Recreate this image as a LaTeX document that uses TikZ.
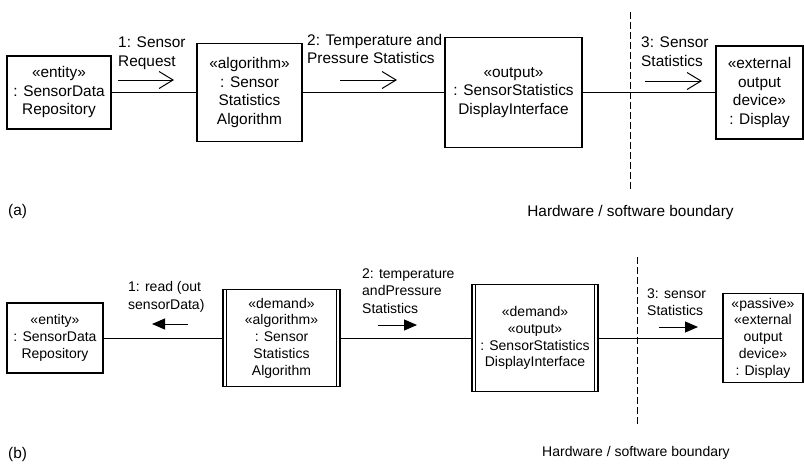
\documentclass[tikz,border=0pt]{standalone}
\usepackage{fontspec}
\setmainfont{Liberation Sans}
\usetikzlibrary{arrows.meta}

\tikzset{
  objbox/.style={draw, line width=1.3pt, inner sep=0pt, align=center},
  demandbox/.style={objbox, path picture={
    \draw[line width=0.8pt]
      ([xshift=3.5pt]path picture bounding box.north west) -- ([xshift=3.5pt]path picture bounding box.south west)
      ([xshift=-3.5pt]path picture bounding box.north east) -- ([xshift=-3.5pt]path picture bounding box.south east);}},
  link/.style={line width=0.8pt},
  msg/.style={anchor=west, inner sep=0pt, align=left},
  openarrow/.style={line width=1pt, -{Straight Barb[length=14pt,width=17pt]}},
  fullarrow/.style={line width=1pt, -{Triangle[length=13pt,width=11pt]}},
  boundary/.style={line width=0.8pt, dash pattern=on 7pt off 3pt},
}

\begin{document}
\begin{tikzpicture}[x=1pt, y=-1pt, font=\fontsize{15.4}{18.5}\selectfont]

\useasboundingbox (0,0) rectangle (804,464);

% (a) communication diagram
\begin{scope}
  % Objects
  \node[objbox, minimum width=104pt, minimum height=73pt] (ent) at (59,92.5)
    {«entity»\\: SensorData\\Repository};
  \node[objbox, minimum width=105pt, minimum height=98pt] (alg) at (249.5,92.5)
    {«algorithm»\\: Sensor\\Statistics\\Algorithm};
  \node[objbox, minimum width=137pt, minimum height=110pt] (out) at (513.5,92.5)
    {«output»\\: SensorStatistics\\DisplayInterface};
  \node[objbox, minimum width=87pt, minimum height=93pt] (disp) at (759.5,92.5)
    {«external\\output\\device»\\: Display};

  % Links
  \draw[link] (ent) -- (alg);
  \draw[link] (alg) -- (out);
  \draw[link] (out) -- (disp);

  % Messages
  \node[msg] (m1) at (118,53) {1: Sensor\\Request};
  \coordinate (m1s) at (118,80);
  \coordinate (m1e) at (174,80);
  \draw[openarrow] (m1s) -- (m1e);

  \node[msg] (m2) at (307,49) {2: Temperature and\\Pressure Statistics};
  \coordinate (m2s) at (340,80);
  \coordinate (m2e) at (397,80);
  \draw[openarrow] (m2s) -- (m2e);

  \node[msg] (m3) at (641,51.5) {3: Sensor\\Statistics};
  \coordinate (m3s) at (645,81);
  \coordinate (m3e) at (702,81);
  \draw[openarrow] (m3s) -- (m3e);

  % Boundary
  \coordinate (bta) at (630,12);
  \coordinate (bba) at (630,190);
  \draw[boundary] (bta) -- (bba);
  \node[inner sep=0pt] (hwa) at (630.5,213) {Hardware / software boundary};

  \node[anchor=west, inner sep=0pt] (capa) at (8,212) {(a)};
\end{scope}

% (b) communication diagram with stereotypes
\begin{scope}[font=\fontsize{14}{16.8}\selectfont]
  % Objects
  \node[objbox, minimum width=96pt, minimum height=70pt] (ent2) at (55,338)
    {«entity»\\: SensorData\\Repository};
  \node[demandbox, minimum width=117pt, minimum height=97pt] (alg2) at (281.5,338)
    {«demand»\\«algorithm»\\: Sensor\\Statistics\\Algorithm};
  \node[demandbox, minimum width=126pt, minimum height=107pt] (out2) at (535,338)
    {«demand»\\«output»\\: SensorStatistics\\DisplayInterface};
  \node[objbox, minimum width=80pt, minimum height=89pt] (disp2) at (763,338)
    {«passive»\\«external\\output\\device»\\: Display};

  % Links
  \draw[link] (ent2) -- (alg2);
  \draw[link] (alg2) -- (out2);
  \draw[link] (out2) -- (disp2);

  % Messages
  \node[msg, font=\fontsize{14}{17.5}\selectfont] (n1) at (128,297) {1: read (out\\sensorData)};
  \coordinate (n1s) at (188,324);
  \coordinate (n1e) at (152,324);
  \draw[fullarrow] (n1s) -- (n1e);

  \node[msg, font=\fontsize{14}{17.5}\selectfont] (n2) at (362,291) {2: temperature\\andPressure\\Statistics};
  \coordinate (n2s) at (378,325);
  \coordinate (n2e) at (417,325);
  \draw[fullarrow] (n2s) -- (n2e);

  \node[msg, font=\fontsize{14}{17.5}\selectfont] (n3) at (647,302) {3: sensor\\Statistics};
  \coordinate (n3s) at (659,327);
  \coordinate (n3e) at (698,327);
  \draw[fullarrow] (n3s) -- (n3e);

  % Boundary
  \coordinate (btb) at (637,257);
  \coordinate (bbb) at (637,427);
  \draw[boundary] (btb) -- (bbb);
  \node[inner sep=0pt] (hwb) at (636,453) {Hardware / software boundary};

  \node[anchor=west, inner sep=0pt, font=\fontsize{15.4}{18.5}\selectfont] (capb) at (8,455) {(b)};
\end{scope}

\end{tikzpicture}
\end{document}
